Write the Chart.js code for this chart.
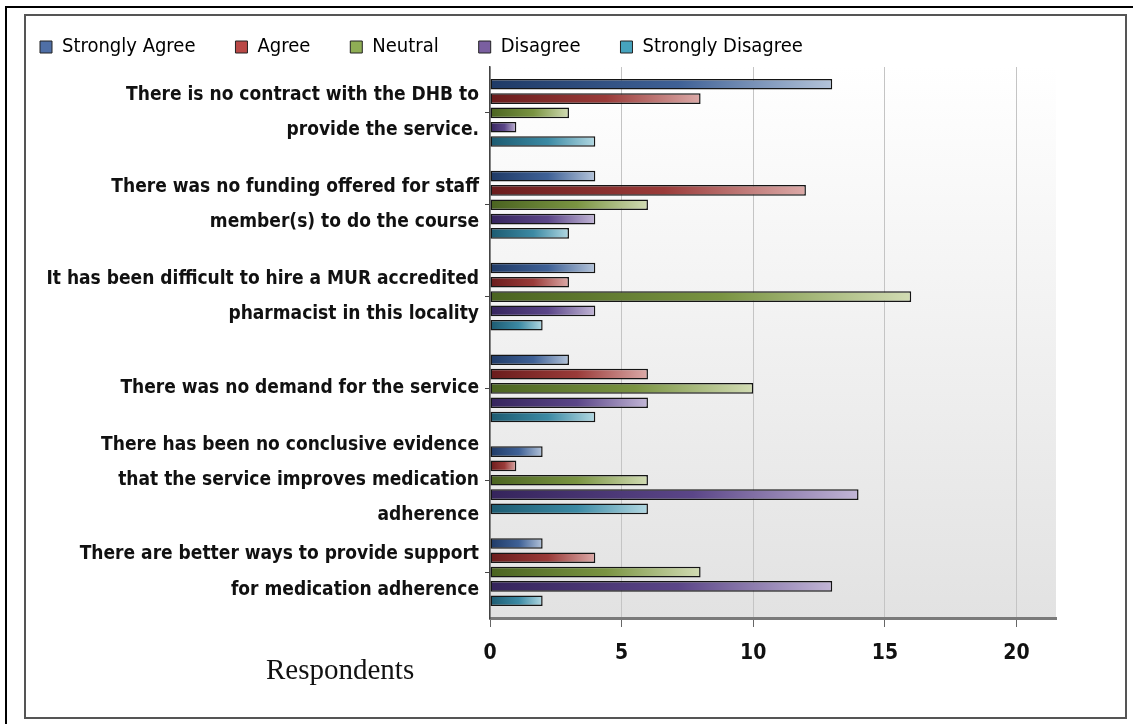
<!DOCTYPE html>
<html>
<head>
<meta charset="utf-8">
<script src="https://cdn.jsdelivr.net/npm/chart.js@4.4.1/dist/chart.umd.min.js"></script>
<style>
  html, body { margin: 0; padding: 0; background: #fff; }
  #page { position: relative; width: 1133px; height: 724px; overflow: hidden; }
  #outer { position: absolute; left: 5px; top: 6px; right: -10px; bottom: -10px;
           border-left: 2px solid #000; border-top: 2px solid #000; }
  #inner { position: absolute; left: 24px; top: 14px; width: 1103px; height: 705px;
           border: 2px solid #555; box-sizing: border-box; }
  #wrap { position: absolute; left: 0; top: 0; width: 1133px; height: 724px; }
  #xtitle { position: absolute; left: 266px; top: 653px;
            font-family: 'Liberation Serif', 'DejaVu Serif', serif; font-size: 29px; color: #111; }
</style>
</head>
<body>
<div id="page">
  <div id="outer"></div>
  <div id="inner"></div>
  <div id="wrap"><canvas id="chart" width="1133" height="724"></canvas></div>
  <div id="xtitle">Respondents</div>
</div>
<script>
const categories = [
  ['There is no contract with the DHB to', 'provide the service.'],
  ['There was no funding offered for staff', 'member(s) to do the course'],
  ['It has been difficult to hire a MUR accredited', 'pharmacist in this locality'],
  ['There was no demand for the service'],
  ['There has been no conclusive evidence', 'that the service improves medication', 'adherence'],
  ['There are better ways to provide support', 'for medication adherence']
];
const seriesNames = ['Strongly Agree', 'Agree', 'Neutral', 'Disagree', 'Strongly Disagree'];
const stronglyAgree = [13, 4, 4, 3, 2, 2];
const agree = [8, 12, 3, 6, 1, 4];
const neutral = [3, 6, 16, 10, 6, 8];
const disagree = [1, 4, 4, 6, 14, 13];
const stronglyDisagree = [4, 3, 2, 4, 6, 2];
const xTicks = [0, 5, 10, 15, 20];

// dark / mid / light per series, legend swatch colour
const palette = [
  { dark: '#1f3a66', mid: '#3f6196', light: '#b4c4da', swatch: '#4f6fa6' },
  { dark: '#6a1c1c', mid: '#9a3b39', light: '#dcaaa8', swatch: '#b94846' },
  { dark: '#4a6320', mid: '#7a9442', light: '#d2dcb4', swatch: '#8fae55' },
  { dark: '#35245c', mid: '#5b4688', light: '#c2b6d6', swatch: '#7a5fa0' },
  { dark: '#1c5a70', mid: '#3c8aa4', light: '#b2d8e2', swatch: '#46a3be' }
];
const seriesValues = [stronglyAgree, agree, neutral, disagree, stronglyDisagree];

const labelFont = "'Liberation Sans Narrow', 'Arial Narrow', 'DejaVu Sans Condensed', sans-serif";

function barFill(p) {
  return (ctx) => {
    const chart = ctx.chart;
    const area = chart.chartArea;
    if (!area || !ctx.parsed) return p.mid;
    const end = chart.scales.x.getPixelForValue(ctx.parsed.x);
    const g = chart.ctx.createLinearGradient(area.left, 0, Math.max(end, area.left + 2), 0);
    g.addColorStop(0, p.dark);
    g.addColorStop(0.55, p.mid);
    g.addColorStop(1, p.light);
    return g;
  };
}

const plotBackground = {
  id: 'plotBackground',
  beforeDraw(chart) {
    const { ctx, chartArea: a } = chart;
    const g = ctx.createLinearGradient(0, a.top, 0, a.bottom);
    g.addColorStop(0, '#ffffff');
    g.addColorStop(1, '#e2e2e2');
    ctx.save();
    ctx.fillStyle = g;
    ctx.fillRect(a.left, a.top, a.right - a.left, a.bottom - a.top);
    ctx.restore();
  }
};

new Chart(document.getElementById('chart'), {
  type: 'bar',
  data: {
    labels: categories,
    datasets: seriesNames.map((name, i) => ({
      label: name,
      data: seriesValues[i],
      backgroundColor: barFill(palette[i]),
      borderColor: '#151515',
      borderWidth: 1.5,
      borderSkipped: false,
      categoryPercentage: 0.78,
      barPercentage: 0.74
    }))
  },
  options: {
    indexAxis: 'y',
    responsive: false,
    animation: false,
    layout: { padding: { left: 0, right: 77, top: -3, bottom: 0 } },
    scales: {
      x: {
        min: 0,
        max: 21.5,
        afterBuildTicks: (scale) => { scale.ticks = xTicks.map(v => ({ value: v })); },
        afterFit: (scale) => { scale.height = 106; },
        border: { color: '#7a7a7a', width: 3 },
        grid: { color: '#c4c4c4', lineWidth: 1, tickLength: 9, tickColor: '#666' },
        ticks: {
          padding: 14,
          color: '#111',
          font: { family: labelFont, size: 21, weight: 'bold' }
        }
      },
      y: {
        afterFit: (scale) => { scale.width = 490; },
        border: { color: '#444', width: 1.5 },
        grid: { display: true, drawOnChartArea: false, offset: false, tickLength: 5, tickColor: '#444' },
        ticks: {
          autoSkip: false,
          padding: 6,
          color: '#111',
          font: { family: labelFont, size: 19, weight: 'bold', lineHeight: 1.85 }
        }
      }
    },
    plugins: {
      legend: {
        position: 'top',
        align: 'start',
        labels: {
          boxWidth: 12,
          boxHeight: 12,
          padding: 40,
          color: '#111',
          font: { family: labelFont, size: 20 },
          generateLabels: (chart) => seriesNames.map((name, i) => ({
            text: name,
            fillStyle: palette[i].swatch,
            strokeStyle: '#222',
            lineWidth: 1,
            datasetIndex: i
          }))
        }
      },
      tooltip: { enabled: false }
    }
  },
  plugins: [plotBackground]
});
</script>
</body>
</html>
